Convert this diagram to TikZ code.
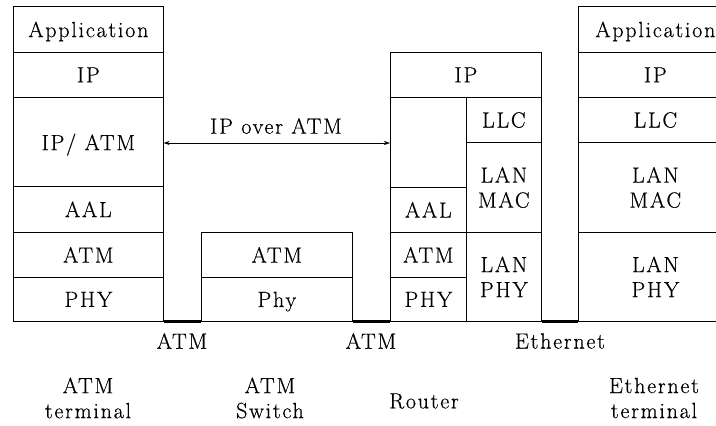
\documentclass[tikz,border=0pt]{standalone}
\usepackage{fontspec}
\setmainfont{Latin Modern Roman}[LetterSpace=8, FakeBold=0.5]
\usetikzlibrary{arrows.meta}
\tikzset{
  layer/.style={draw=black, line width=0.7pt, inner sep=0pt, align=center,
    font=\fontsize{22}{25}\selectfont, anchor=north west, text depth=0pt},
  lbl/.style={inner sep=0pt, align=center, font=\fontsize{22}{25}\selectfont},
  link/.style={line width=2.6pt},
  dbl/.style={{Stealth[length=6pt,width=4pt]}-{Stealth[length=6pt,width=4pt]}, line width=0.5pt}
}
% \lay{name}{x1}{y1}{x2}{y2}{text}
\newcommand{\lay}[6]{%
  \node[layer, minimum width=#4-#2, minimum height=#5-#3] (#1) at (#2,#3) {#6};}
\begin{document}
\begin{tikzpicture}[x=1pt,y=-1pt]
\useasboundingbox (0,0) rectangle (716,426);
\clip (0,0) rectangle (716,426);
% ATM terminal
\lay{ta}{13}{6}{163}{52}{Application}
\lay{tip}{13}{52}{163}{97}{IP}
\lay{tipatm}{13}{97}{163}{186}{IP/ ATM}
\lay{taal}{13}{186}{163}{232}{AAL}
\lay{tatm}{13}{232}{163}{277}{ATM}
\lay{tphy}{13}{277}{163}{321}{PHY}
% ATM switch
\lay{satm}{201}{232}{352}{277}{ATM}
\lay{sphy}{201}{277}{352}{321}{Phy}
% Router
\lay{rip}{390}{52}{541}{97}{IP}
\lay{rgap}{390}{97}{466}{187}{}
\lay{raal}{390}{187}{466}{232}{AAL}
\lay{ratm}{390}{232}{466}{277}{ATM}
\lay{rphy}{390}{277}{466}{321}{PHY}
\lay{rllc}{466}{97}{541}{142}{LLC}
\lay{rmac}{466}{142}{541}{232}{LAN\\MAC}
\lay{rlphy}{466}{232}{541}{321}{LAN\\PHY}
% Ethernet terminal
\lay{ea}{578}{6}{732}{52}{Application}
\lay{eip}{578}{52}{732}{97}{IP}
\lay{ellc}{578}{97}{732}{142}{LLC}
\lay{emac}{578}{142}{732}{232}{LAN\\MAC}
\lay{ephy}{578}{232}{732}{321}{LAN\\PHY}
% links
\draw[link] (tphy.south east) -- (sphy.south west);
\draw[link] (sphy.south east) -- (rphy.south west);
\draw[link] (rlphy.south east) -- (ephy.south west);
% IP over ATM
\coordinate (al) at (tipatm.east |- 0,143);
\coordinate (ar) at (rgap.west |- 0,143);
\draw[dbl] (al) -- (ar);
\node[lbl] (ipoa) at (276,126) {IP over ATM};
% link labels
\node[lbl] (l1) at (182,341) {ATM};
\node[lbl] (l2) at (371,341) {ATM};
\node[lbl] (l3) at (560,341) {Ethernet};
% device labels
\node[lbl] (d1) at (88,398) {ATM\\terminal};
\node[lbl] (d2) at (270,398) {ATM\\Switch};
\node[lbl] (d3) at (424,401) {Router};
\node[lbl] (d4) at (654,398) {Ethernet\\terminal};
\end{tikzpicture}
\end{document}
